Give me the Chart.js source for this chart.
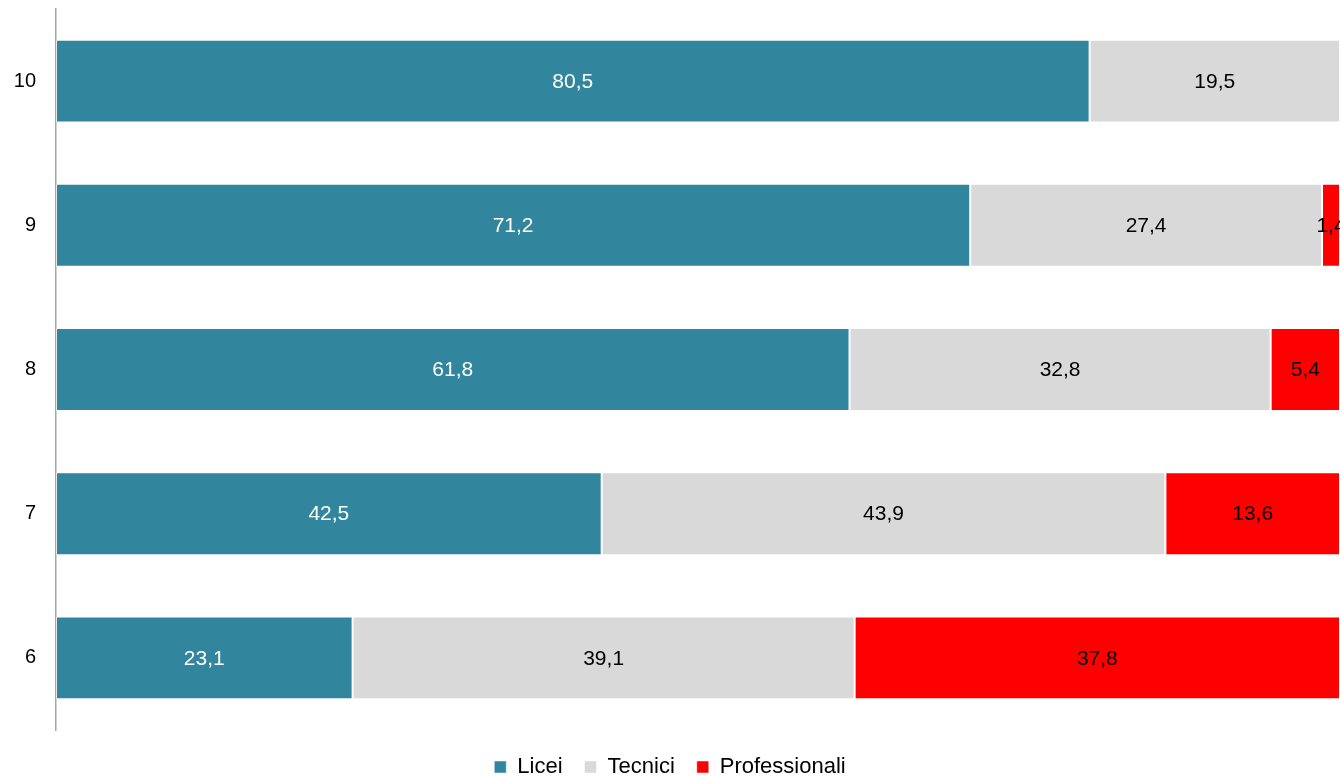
<!DOCTYPE html>
<html>
<head>
<meta charset="utf-8">
<script src="https://cdn.jsdelivr.net/npm/chart.js@4/dist/chart.umd.min.js"></script>
<style>
    body{margin:0;background:#fff;}
    .chart-box{width:1340px;height:777px;position:relative;}
</style>
</head>
<body>
<div class="chart-box"><canvas id="bar_chart"></canvas></div>
<script>
//DATA
const categories=['10','9','8','7','6'];
const licei_values=[80.5,71.2,61.8,42.5,23.1];
const tecnici_values=[19.5,27.4,32.8,43.9,39.1];
const professionali_values=[null,1.4,5.4,13.6,37.8];

//COLORS
const licei_color='#31859c';
const tecnici_color='#d9d9d9';
const professionali_color='#ff0000';

const font_family="'Liberation Sans', Arial, sans-serif";

//WRITE THE VALUE IN THE MIDDLE OF EACH BAR
const barValues={
    id:'barValues',
    afterDatasetsDraw(chart){
        const ctx=chart.ctx;
        ctx.save();
        ctx.font='21px '+font_family;
        ctx.textAlign='center';
        ctx.textBaseline='middle';
        chart.data.datasets.forEach((dataset,i)=>{
            const meta=chart.getDatasetMeta(i);
            meta.data.forEach((bar,j)=>{
                const value=dataset.data[j];
                if(value===null || value===0) return;
                const pos=bar.getCenterPoint();
                ctx.fillStyle=dataset.labelColor;
                ctx.fillText(value.toFixed(1).replace('.',','),pos.x,pos.y+1);
            });
        });
        ctx.restore();
    }
};

const ctx=document.getElementById('bar_chart').getContext('2d');
const my_chart=new Chart(ctx,{
    type:'bar',
    data:{
        labels:categories,
        datasets:[{
            label:'Licei',
            data:licei_values,
            backgroundColor:licei_color,
            labelColor:'#ffffff'
        },
        {
            label:'Tecnici',
            data:tecnici_values,
            backgroundColor:tecnici_color,
            labelColor:'#000000'
        },
        {
            label:'Professionali',
            data:professionali_values,
            backgroundColor:professionali_color,
            labelColor:'#000000'
        }]
    },
    options:{
        indexAxis:'y',
        responsive:true,
        maintainAspectRatio:false,
        devicePixelRatio:1,
        animation:false,
        layout:{padding:{top:9,bottom:-11,left:0,right:0}},
        datasets:{
            bar:{
                barPercentage:0.575,
                categoryPercentage:1,
                borderWidth:1,
                borderColor:'rgba(255,255,255,0.5)',
                borderSkipped:false
            }
        },
        scales:{
            x:{
                stacked:true,
                min:0,
                max:100,
                ticks:{display:false},
                grid:{display:false},
                border:{display:false},
                afterFit:scale=>{scale.height=4;}
            },
            y:{
                stacked:true,
                ticks:{
                    color:'#000',
                    padding:20,
                    font:{family:font_family,size:20}
                },
                grid:{display:true,drawOnChartArea:false,drawTicks:false,color:'transparent'},
                border:{display:true,color:'#a6a6a6',width:1.5},
                //fixed axis width, and no extra room above/below for the labels
                afterFit:scale=>{
                    scale.width=56;
                    scale.paddingTop=0;
                    scale.paddingBottom=0;
                }
            }
        },
        plugins:{
            legend:{
                position:'bottom',
                labels:{
                    usePointStyle:true,
                    pointStyle:'rect',
                    pointStyleWidth:12,
                    boxHeight:12,
                    padding:22,
                    color:'#000',
                    font:{family:font_family,size:22}
                }
            },
            tooltip:{enabled:false}
        }
    },
    plugins:[barValues]
});
</script>
</body>
</html>
